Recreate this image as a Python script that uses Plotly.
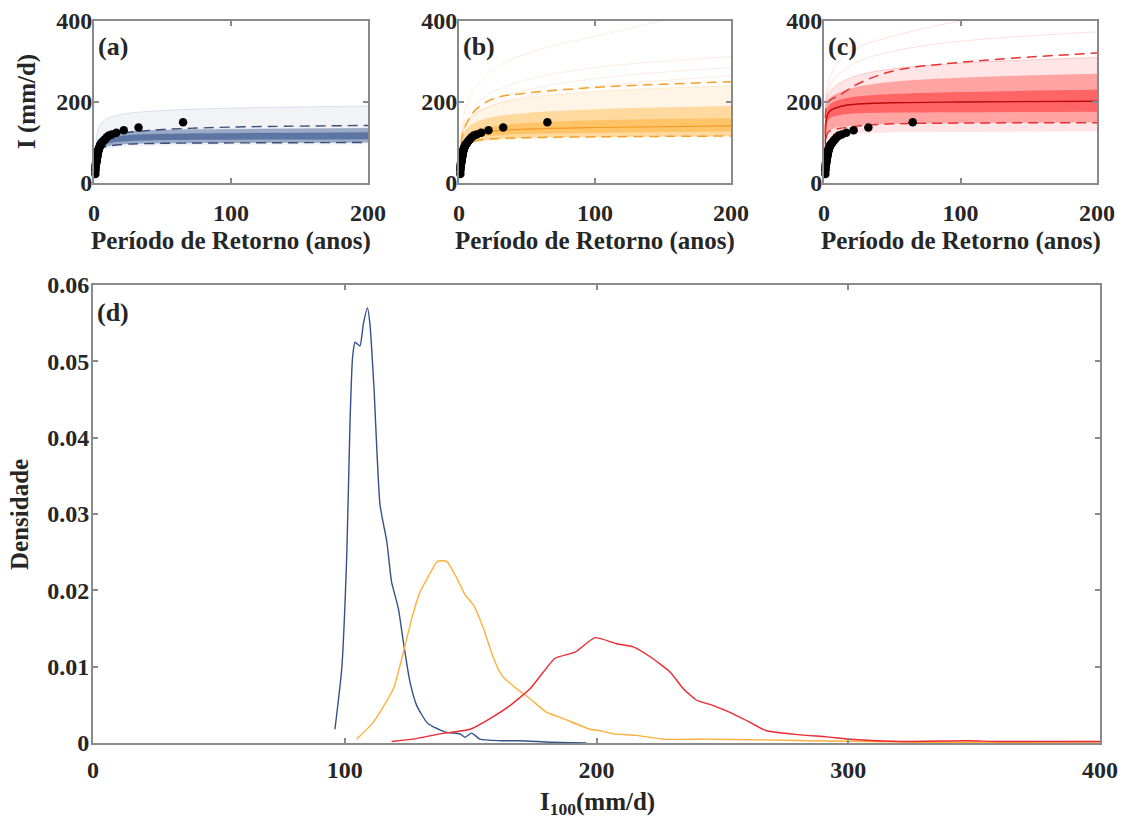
import plotly.graph_objects as go

# ---------------- data ----------------
T_GRID = [1.01, 1.5, 3, 6, 12, 25, 50, 100, 200]

OBS_T = [65, 32.5, 21.7, 16.3, 13.0, 10.8, 9.3, 8.1, 7.2, 6.5, 5.9, 5.4, 5.0, 4.6,
         4.3, 4.1, 3.8, 3.6, 3.4, 3.25, 3.1, 2.95, 2.8, 2.7, 2.6, 2.5, 2.4, 2.3,
         2.2, 2.1, 2.0, 1.9, 1.8, 1.7, 1.6, 1.5, 1.4, 1.3, 1.2, 1.1, 1.05, 1.02]
OBS_I = [150, 137, 130, 124, 120, 117, 113, 108, 105, 102, 99, 97, 95, 93,
         91, 89, 87, 85, 83, 81, 79, 77, 75, 73, 71, 69, 67, 65,
         63, 61, 59, 57, 55, 53, 51, 49, 46, 43, 40, 36, 31, 22]

# panel (a) - blue ensemble envelopes (I in mm/d at T_GRID)
A_FAINT_LO = [30, 52, 70, 80, 86, 90, 92, 94, 95]
A_BAND_LO = [36, 58, 76, 86, 92, 96, 98, 99, 100]
A_CORE_LO = [42, 64, 82, 92, 99, 103, 106, 107, 108]
A_CORE_HI = [48, 72, 92, 104, 112, 118, 121, 123, 125]
A_BAND_HI = [52, 78, 99, 112, 121, 127, 131, 133, 135]
A_FAINT_HI = [60, 100, 132, 150, 163, 172, 179, 185, 190]
A_DASH_LO = [38, 60, 76, 86, 92, 96, 98, 99, 100]
A_DASH_HI = [55, 85, 104, 113, 119, 125, 132, 138, 142]

# panel (b) - orange ensemble envelopes
B_FAINT_LO = [30, 52, 72, 88, 98, 104, 108, 111, 113]
B_BAND_LO = [36, 58, 78, 93, 102, 108, 112, 114, 116]
B_CORE_LO = [42, 65, 86, 100, 110, 117, 121, 124, 127]
B_CORE_HI = [52, 78, 102, 118, 130, 140, 148, 155, 160]
B_BAND_HI = [58, 88, 115, 135, 150, 163, 173, 182, 190]
B_FAINT_HI = [64, 98, 128, 152, 172, 192, 210, 226, 240]
B_MEDIAN = [48, 72, 95, 110, 120, 128, 133, 137, 141]
B_DASH_LO = [38, 60, 80, 95, 104, 109, 112, 114, 116]
B_DASH_HI = [60, 95, 125, 150, 180, 208, 222, 236, 250]
B_EXTREMES = [
    [70, 115, 160, 195, 235, 280, 320, 362, 440],
    [65, 105, 140, 168, 195, 225, 255, 285, 312],
    [62, 100, 132, 157, 180, 205, 230, 258, 285],
    [60, 95, 125, 148, 170, 192, 214, 238, 265],
]

# panel (c) - red ensemble envelopes
C_FAINT_LO = [55, 92, 108, 115, 119, 123, 125, 126, 127]
C_BAND_LO = [70, 110, 126, 133, 138, 143, 146, 148, 150]
C_CORE_LO = [85, 135, 155, 163, 168, 172, 174, 175, 176]
C_CORE_HI = [105, 165, 188, 198, 206, 214, 220, 225, 230]
C_BAND_HI = [120, 185, 205, 215, 225, 238, 250, 260, 270]
C_FAINT_HI = [130, 195, 218, 232, 248, 266, 282, 296, 310]
C_MEDIAN = [95, 150, 172, 182, 189, 195, 198, 200, 202]
C_DASH_LO = [70, 110, 125, 131, 135, 141, 146, 148, 149]
C_DASH_HI = [120, 185, 200, 208, 218, 245, 276, 298, 321]
C_EXTREMES = [
    [150, 210, 245, 275, 305, 335, 362, 400, 445],
    [140, 200, 228, 250, 272, 300, 325, 350, 373],
]

# panel (d) - densities of I100
D_BLUE_X = [96.1, 98.8, 100.8, 102.1, 103.1, 104.1, 106.0, 107.4, 109.0, 110.0,
            111.6, 114.0, 116.7, 118.6, 121.3, 123.3, 125.9, 128.6, 132.6, 135.2,
            140.5, 145.8, 147.8, 150.4, 153.7, 161.7, 169.6, 181.5, 190.0, 196.0]
D_BLUE_Y = [0.0018, 0.0097, 0.0246, 0.0422, 0.0505, 0.0525, 0.0520, 0.0549, 0.0570, 0.0549,
            0.0466, 0.0312, 0.0264, 0.0211, 0.0176, 0.0132, 0.0080, 0.0049, 0.0027, 0.0021,
            0.0014, 0.0012, 0.00075, 0.0013, 0.0005, 0.0003, 0.0003, 0.0001, 0.00005, 0.0]

D_ORANGE_X = [104.7, 111.3, 119.3, 123.3, 126.6, 129.9, 133.2, 136.8, 140.5, 144.5,
              147.8, 151.1, 155.1, 159.1, 162.3, 168.3, 173.6, 180.2, 186.8, 197.4,
              201.4, 206.7, 216.0, 226.5, 246.4, 285.0, 330.0, 400.0]
D_ORANGE_Y = [0.0005, 0.0027, 0.0071, 0.0119, 0.0163, 0.0198, 0.0218, 0.0238, 0.0238, 0.0216,
              0.0194, 0.0181, 0.0150, 0.0111, 0.0089, 0.0071, 0.0058, 0.0040, 0.0032, 0.0018,
              0.0016, 0.0012, 0.0010, 0.0005, 0.0005, 0.0003, 0.0001, 0.0]

D_RED_X = [118.6, 127.2, 137.8, 149.8, 157.7, 165.6, 173.6, 178.9, 183.5, 191.5,
           199.4, 208.0, 214.6, 221.3, 229.2, 234.5, 239.8, 246.4, 253.0, 261.0,
           267.6, 280.0, 291.4, 300.7, 320.6, 347.0, 360.0, 400.0]
D_RED_Y = [0.0002, 0.0005, 0.0012, 0.0018, 0.0032, 0.0049, 0.0071, 0.0093, 0.0111, 0.0119,
           0.0138, 0.0130, 0.0126, 0.0113, 0.0093, 0.0071, 0.0056, 0.0049, 0.0040, 0.0027,
           0.0016, 0.0011, 0.0008, 0.0005, 0.0002, 0.0003, 0.0002, 0.0002]

# ---------------- style ----------------
FONT = "Times New Roman, Liberation Serif, serif"
TXT = "#262626"
AXC = "#8a8a8a"
W, H = 1124, 821

BLUE = "52,82,138"
ORANGE = "255,176,50"
RED = "255,40,40"

fig = go.Figure()


def band(ax, lo, hi, rgb, alpha):
    xa, ya = ax
    fig.add_trace(go.Scatter(x=T_GRID, y=lo, xaxis=xa, yaxis=ya, mode="lines",
                             line=dict(width=0, shape="spline"), hoverinfo="skip",
                             showlegend=False))
    fig.add_trace(go.Scatter(x=T_GRID, y=hi, xaxis=xa, yaxis=ya, mode="lines",
                             line=dict(width=0, shape="spline"), fill="tonexty",
                             fillcolor=f"rgba({rgb},{alpha})", hoverinfo="skip",
                             showlegend=False))


def line(ax, y, rgb, alpha, width=1.0, dash=None):
    xa, ya = ax
    fig.add_trace(go.Scatter(x=T_GRID, y=y, xaxis=xa, yaxis=ya, mode="lines",
                             line=dict(width=width, shape="spline",
                                       color=f"rgba({rgb},{alpha})", dash=dash),
                             hoverinfo="skip", showlegend=False))


def obs(ax):
    xa, ya = ax
    fig.add_trace(go.Scatter(x=OBS_T, y=OBS_I, xaxis=xa, yaxis=ya, mode="markers",
                             marker=dict(size=8.5, color="black"), cliponaxis=False,
                             showlegend=False))


DASH = "10px,6px"

# panel (a)
ax_a = ("x", "y")
band(ax_a, A_FAINT_LO, A_FAINT_HI, BLUE, 0.07)
band(ax_a, A_BAND_LO, A_BAND_HI, BLUE, 0.45)
band(ax_a, A_CORE_LO, A_CORE_HI, BLUE, 0.6)
for arr in (A_FAINT_HI, A_BAND_HI, A_CORE_HI):
    line(ax_a, arr, BLUE, 0.15)
line(ax_a, A_DASH_LO, "40,62,110", 0.9, 1.4, DASH)
line(ax_a, A_DASH_HI, "40,62,110", 0.9, 1.4, DASH)
obs(ax_a)

# panel (b)
ax_b = ("x2", "y2")
band(ax_b, B_FAINT_LO, B_FAINT_HI, ORANGE, 0.12)
band(ax_b, B_BAND_LO, B_BAND_HI, ORANGE, 0.4)
band(ax_b, B_CORE_LO, B_CORE_HI, ORANGE, 0.5)
for arr in B_EXTREMES:
    line(ax_b, arr, "255,150,90", 0.18)
line(ax_b, B_FAINT_HI, ORANGE, 0.2)
line(ax_b, B_MEDIAN, "240,150,30", 0.9, 1.2)
line(ax_b, B_DASH_LO, "245,160,40", 1.0, 1.5, DASH)
line(ax_b, B_DASH_HI, "245,160,40", 1.0, 1.5, DASH)
obs(ax_b)

# panel (c)
ax_c = ("x3", "y3")
band(ax_c, C_FAINT_LO, C_FAINT_HI, RED, 0.12)
band(ax_c, C_BAND_LO, C_BAND_HI, RED, 0.35)
band(ax_c, C_CORE_LO, C_CORE_HI, RED, 0.5)
for arr in C_EXTREMES:
    line(ax_c, arr, RED, 0.15)
line(ax_c, C_FAINT_HI, RED, 0.2)
line(ax_c, C_MEDIAN, "180,0,0", 0.9, 1.4)
line(ax_c, C_DASH_LO, "232,50,50", 1.0, 1.5, DASH)
line(ax_c, C_DASH_HI, "232,50,50", 1.0, 1.5, DASH)
obs(ax_c)

# panel (d)
for xs, ys, col in ((D_BLUE_X, D_BLUE_Y, "rgb(52,82,138)"),
                    (D_ORANGE_X, D_ORANGE_Y, "rgb(255,176,60)"),
                    (D_RED_X, D_RED_Y, "rgb(238,40,48)")):
    fig.add_trace(go.Scatter(x=xs, y=ys, xaxis="x4", yaxis="y4", mode="lines",
                             line=dict(width=1.4, color=col, shape="spline", smoothing=0.5),
                             showlegend=False, hoverinfo="skip"))


def px_x(a, b):
    return [a / W, b / W]


def px_y(top, bottom):
    return [1 - bottom / H, 1 - top / H]


tickfont = dict(family=FONT, size=24, color=TXT, weight="bold")
common = dict(showline=True, linecolor=AXC, linewidth=2, mirror="allticks",
              ticks="inside", ticklen=5, tickcolor=AXC, tickwidth=1.5,
              showgrid=False, zeroline=False, tickfont=tickfont, automargin=False)

dom_top = px_y(21, 183)
layout = dict(
    width=W, height=H, margin=dict(l=0, r=0, t=0, b=0, autoexpand=False),
    paper_bgcolor="white", plot_bgcolor="white",
    xaxis=dict(domain=px_x(94, 368), range=[0, 200], tickvals=[0, 100, 200],
               anchor="y", ticklabelstandoff=7, **common),
    yaxis=dict(domain=dom_top, range=[0, 400], tickvals=[0, 200, 400],
               anchor="x", ticklabelstandoff=-5, **common),
    xaxis2=dict(domain=px_x(459, 731), range=[0, 200], tickvals=[0, 100, 200],
                anchor="y2", ticklabelstandoff=7, **common),
    yaxis2=dict(domain=dom_top, range=[0, 400], tickvals=[0, 200, 400],
                anchor="x2", ticklabelstandoff=-5, **common),
    xaxis3=dict(domain=px_x(824, 1097), range=[0, 200], tickvals=[0, 100, 200],
                anchor="y3", ticklabelstandoff=7, **common),
    yaxis3=dict(domain=dom_top, range=[0, 400], tickvals=[0, 200, 400],
                anchor="x3", ticklabelstandoff=-5, **common),
    xaxis4=dict(domain=px_x(93, 1100), range=[0, 400], tickvals=[0, 100, 200, 300, 400],
                anchor="y4", ticklabelstandoff=4, **common),
    yaxis4=dict(domain=px_y(285, 743), range=[0, 0.06],
                tickvals=[0, 0.01, 0.02, 0.03, 0.04, 0.05, 0.06],
                ticktext=["0", "0.01", "0.02", "0.03", "0.04", "0.05", "0.06"],
                anchor="x4", ticklabelstandoff=-3, **common),
)
fig.update_layout(**layout)

tfont = dict(family=FONT, size=25, color=TXT, weight="bold")


def ann(text, x, y, angle=0, xanchor="center", yanchor="middle", size=25):
    f = dict(tfont)
    f["size"] = size
    fig.add_annotation(text=text, x=x / W, y=1 - y / H, xref="paper", yref="paper",
                       showarrow=False, textangle=angle, xanchor=xanchor,
                       yanchor=yanchor, font=f)


ann("(a)", 96, 47, xanchor="left", size=26)
ann("(b)", 461, 47, xanchor="left", size=26)
ann("(c)", 826, 47, xanchor="left", size=26)
ann("(d)", 95, 312, xanchor="left", size=26)
ann("Período de Retorno (anos)", (94 + 368) / 2, 241)
ann("Período de Retorno (anos)", (459 + 731) / 2, 241)
ann("Período de Retorno (anos)", (824 + 1097) / 2, 241)
ann("I (mm/d)", 27, 102, angle=-90)
ann("Densidade", 19, 515, angle=-90)
ann("I<sub>100</sub>(mm/d)", 597, 803)

fig.write_html("out.html")
